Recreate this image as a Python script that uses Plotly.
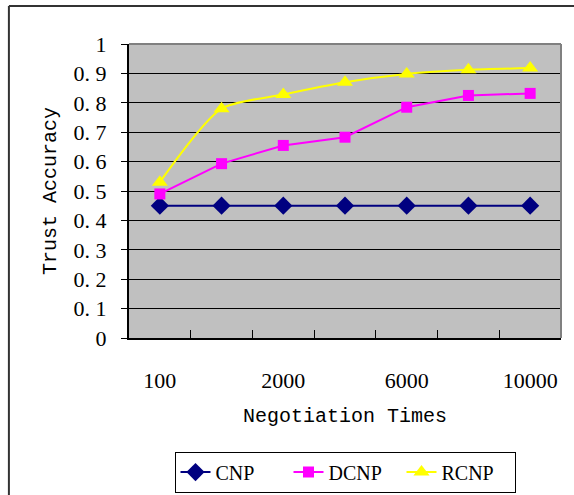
import plotly.graph_objects as go

categories = ["100", "1000", "2000", "4000", "6000", "8000", "10000"]
shown_labels = ["100", "", "2000", "", "6000", "", "10000"]
cnp = [0.45, 0.45, 0.45, 0.45, 0.45, 0.45, 0.45]
dcnp = [0.49, 0.593, 0.655, 0.683, 0.785, 0.825, 0.832]
rcnp = [0.53, 0.78, 0.828, 0.87, 0.898, 0.912, 0.918]
y_ticks = [0, 0.1, 0.2, 0.3, 0.4, 0.5, 0.6, 0.7, 0.8, 0.9, 1]
y_ticktext = ["0", "0.\u00a01", "0.\u00a02", "0.\u00a03", "0.\u00a04", "0.\u00a05",
              "0.\u00a06", "0.\u00a07", "0.\u00a08", "0.\u00a09", "1"]

serif = "Liberation Serif"
mono = "Liberation Mono"

fig = go.Figure()
fig.add_trace(go.Scatter(x=categories, y=cnp, name="CNP", mode="lines+markers",
                         line=dict(color="#000080", width=2),
                         marker=dict(symbol="diamond", size=14, color="#000080")))
fig.add_trace(go.Scatter(x=categories, y=dcnp, name="DCNP", mode="lines+markers",
                         line=dict(color="#FF00FF", width=2),
                         marker=dict(symbol="square", size=11, color="#FF00FF")))
fig.add_trace(go.Scatter(x=categories, y=rcnp, name="RCNP", mode="lines+markers",
                         line=dict(color="#FFFF00", width=2, shape="spline", smoothing=0.7),
                         marker=dict(symbol="triangle-up", size=14, color="#FFFF00")))

fig.update_layout(
    width=574, height=495,
    margin=dict(l=129, r=13, t=44, b=157, autoexpand=False),
    paper_bgcolor="white",
    plot_bgcolor="#C0C0C0",
    showlegend=True,
    legend=dict(orientation="h", x=0.5, xanchor="center", y=-0.456, yanchor="middle",
                bordercolor="black", borderwidth=1, bgcolor="white",
                font=dict(family=serif, size=20, color="black"),
                entrywidth=68, entrywidthmode="pixels", tracegroupgap=0),
    font=dict(family=serif, color="black"),
)

fig.update_xaxes(
    type="category", categoryorder="array", categoryarray=categories,
    tickmode="array", tickvals=categories, ticktext=shown_labels,
    tickson="boundaries", ticks="inside", ticklen=8, tickcolor="black", tickwidth=1,
    showgrid=False, zeroline=False, automargin=False, tickangle=0,
    showline=True, linecolor="black", linewidth=2,
    tickfont=dict(family=serif, size=22, color="black"),
    ticklabelstandoff=22,
    title=dict(text="Negotiation Times", font=dict(family=mono, size=20, color="black"), standoff=16),
    range=[-0.5, 6.5],
)
fig.update_yaxes(
    range=[0, 1], tickmode="array", tickvals=y_ticks, ticktext=y_ticktext,
    ticks="outside", ticklen=6, tickcolor="black", tickwidth=1,
    showgrid=True, gridcolor="black", gridwidth=1, zeroline=False, automargin=False,
    showline=True, linecolor="black", linewidth=2,
    tickfont=dict(family=serif, size=22, color="black"),
    ticklabelstandoff=10,
    title=dict(text="Trust Accuracy", font=dict(family=mono, size=20, color="black"), standoff=12),
)

# gray top and right borders of the plot area
fig.add_shape(type="line", xref="paper", yref="paper", x0=0, x1=1, y0=1, y1=1,
              line=dict(color="#808080", width=2))
fig.add_shape(type="line", xref="paper", yref="paper", x0=1, x1=1, y0=0, y1=1,
              line=dict(color="#808080", width=2))
# outer chart border (left and top visible)
fig.add_shape(type="line", xref="paper", yref="paper", x0=-0.278, x1=1.1, y0=1.129, y1=1.129,
              line=dict(color="#333333", width=2))
fig.add_shape(type="line", xref="paper", yref="paper", x0=-0.278, x1=-0.278, y0=-0.6, y1=1.129,
              line=dict(color="#333333", width=2))

fig.write_html("out.html")
